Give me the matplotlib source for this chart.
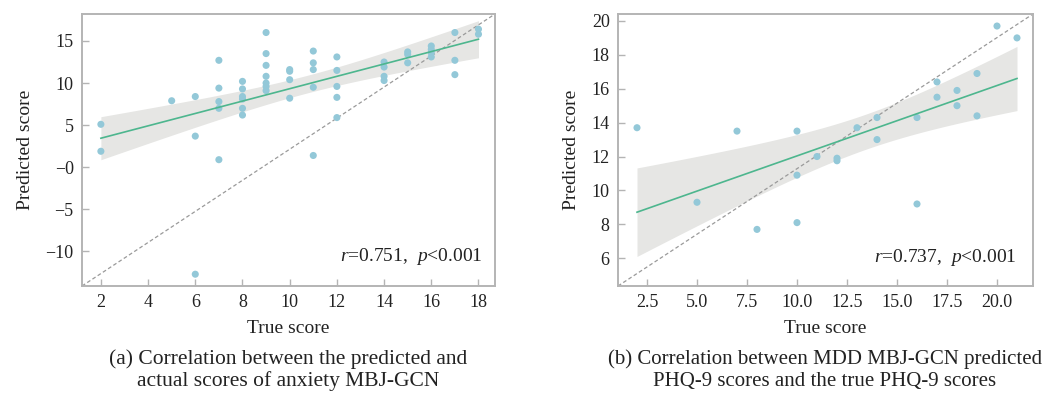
import numpy as np
import matplotlib
matplotlib.use("Agg")
import matplotlib.pyplot as plt
from matplotlib.ticker import FixedLocator, FixedFormatter

# ---------------- data ----------------
# Panel (a): anxiety
a_true = [2, 2, 5, 6, 6, 6, 7, 7, 7, 7, 7,
          8, 8, 8, 8, 8, 8, 9, 9, 9, 9, 9, 9, 9,
          10, 10, 10, 10, 11, 11, 11, 11, 11,
          12, 12, 12, 12, 12, 14, 14, 14, 14,
          15, 15, 15, 16, 16, 16, 16, 17, 17, 17, 18, 18]
a_pred = [5.1, 1.9, 7.9, 8.4, 3.7, -12.7, 12.7, 9.4, 7.8, 7.0, 0.9,
          10.2, 9.3, 8.4, 8.1, 7.0, 6.2, 16.0, 13.5, 12.1, 10.8, 10.0, 9.6, 9.1,
          11.6, 11.4, 10.4, 8.2, 13.8, 12.4, 11.6, 9.5, 1.4,
          13.1, 11.5, 9.6, 8.3, 5.9, 12.5, 11.9, 10.8, 10.3,
          13.7, 13.4, 12.4, 14.4, 14.0, 13.6, 13.1, 16.0, 12.7, 11.0, 16.4, 15.8]

# Panel (b): depression (PHQ-9)
b_true = [2, 5, 7, 8, 10, 10, 10, 11, 12, 12, 13, 14, 14,
          16, 16, 17, 17, 18, 18, 19, 19, 20, 21]
b_pred = [13.7, 9.3, 13.5, 7.7, 13.5, 10.9, 8.1, 12.0, 11.9, 11.75, 13.7, 14.3, 13.0,
          14.3, 9.2, 16.4, 15.5, 15.9, 15.0, 16.9, 14.4, 19.7, 19.0]

a_yticks = [-10, -5, 0, 5, 10, 15]
a_yticklabels = ["\u221210", "\u22125", "\u22120", "5", "10", "15"]
a_xticks = [2, 4, 6, 8, 10, 12, 14, 16, 18]
b_yticks = [6, 8, 10, 12, 14, 16, 18, 20]
b_xticks = [2.5, 5.0, 7.5, 10.0, 12.5, 15.0, 17.5, 20.0]

a_stat = ("0.751", "0.001")
b_stat = ("0.737", "0.001")

a_caption = "(a) Correlation between the predicted and\nactual scores of anxiety MBJ-GCN"
b_caption = "(b) Correlation between MDD MBJ-GCN predicted\nPHQ-9 scores and the true PHQ-9 scores"

# ---------------- style ----------------
plt.rcParams['font.family'] = ['Liberation Serif', 'DejaVu Serif']
plt.rcParams['mathtext.fontset'] = 'custom'
plt.rcParams['mathtext.rm'] = 'Liberation Serif'
plt.rcParams['mathtext.it'] = 'Liberation Serif:italic'

PT_COLOR = '#93c8d8'
LINE_COLOR = '#4db68e'
BAND_COLOR = '#e6e6e4'
SPINE_COLOR = '#b4b4b4'
TEXT_COLOR = '#222222'

fig = plt.figure(figsize=(10.48, 3.93), dpi=100)
W, H = 1048, 393
def axes_px(l, t, r, b):
    return fig.add_axes([l / W, 1 - b / H, (r - l) / W, (b - t) / H])

ax_a = axes_px(82, 14, 495, 286)
ax_b = axes_px(618, 14, 1033, 286)


def regplot(ax, x, y):
    x = np.asarray(x, float)
    y = np.asarray(y, float)
    n = len(x)
    slope, intercept = np.polyfit(x, y, 1)
    xs = np.linspace(x.min(), x.max(), 100)
    ys = intercept + slope * xs
    resid = y - (intercept + slope * x)
    s = np.sqrt(np.sum(resid ** 2) / (n - 2))
    sxx = np.sum((x - x.mean()) ** 2)
    tval = 2.03 if n > 30 else 2.08
    half = tval * s * np.sqrt(1 / n + (xs - x.mean()) ** 2 / sxx)
    ax.fill_between(xs, ys - half, ys + half, color=BAND_COLOR, lw=0, zorder=1)
    ax.scatter(x, y, s=26, color=PT_COLOR, edgecolors='none', zorder=3)
    ax.plot(xs, ys, color=LINE_COLOR, lw=1.2, zorder=4)
    ax.plot([0, 1], [0, 1], transform=ax.transAxes, ls=(0, (3, 2)),
            color='#9a9a9a', lw=0.9, zorder=2)


def style(ax):
    for sp in ax.spines.values():
        sp.set_color(SPINE_COLOR)
        sp.set_linewidth(1.4)
    ax.tick_params(direction='in', length=5, width=1, color=SPINE_COLOR,
                   labelsize=13, labelcolor=TEXT_COLOR, pad=6)
    ax.set_xlabel("True score", fontsize=14, color=TEXT_COLOR, labelpad=6)
    ax.set_ylabel("Predicted score", fontsize=14, color=TEXT_COLOR, labelpad=8)


# Panel (a)
regplot(ax_a, a_true, a_pred)
ax_a.set_xlim(1.2, 18.7)
ax_a.set_ylim(-14.1, 18.2)
ax_a.yaxis.set_major_locator(FixedLocator(a_yticks))
ax_a.yaxis.set_major_formatter(FixedFormatter(a_yticklabels))
ax_a.set_xticks(a_xticks)
style(ax_a)
ax_a.text(0.969, 0.107, r"$r$=%s,  $p$<%s" % a_stat, transform=ax_a.transAxes,
          ha='right', va='center', fontsize=14, color=TEXT_COLOR)

# Panel (b)
regplot(ax_b, b_true, b_pred)
ax_b.set_xlim(1.05, 21.8)
ax_b.set_ylim(4.36, 20.41)
ax_b.set_yticks(b_yticks)
ax_b.set_xticks(b_xticks)
ax_b.set_xticklabels(["%.1f" % v for v in b_xticks])
style(ax_b)
ax_b.text(0.961, 0.103, r"$r$=%s,  $p$<%s" % b_stat, transform=ax_b.transAxes,
          ha='right', va='center', fontsize=14, color=TEXT_COLOR)

# captions
fig.text(288 / W, 1 - 370 / H, a_caption, ha='center', va='center', fontsize=15.5,
         color=TEXT_COLOR, linespacing=1.15)
fig.text(825 / W, 1 - 370 / H, b_caption, ha='center', va='center', fontsize=15,
         color=TEXT_COLOR, linespacing=1.2)

fig.savefig("out.png", dpi=100)
